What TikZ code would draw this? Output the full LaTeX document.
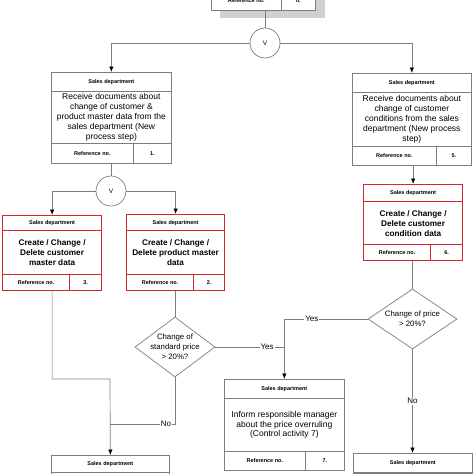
\documentclass[tikz,border=0pt]{standalone}
\usepackage{fontspec}
\setmainfont{Liberation Sans}
\usetikzlibrary{shapes.geometric,arrows.meta}
\definecolor{redb}{RGB}{212,38,48}
\definecolor{lng}{RGB}{125,125,125}
\definecolor{shadowg}{RGB}{208,208,208}
\tikzset{
 cell/.style={draw=lng, line width=0.7pt, fill=white, inner sep=1pt, anchor=north west, align=center},
 hdr/.style={cell, font=\bfseries\fontsize{5.5}{6.5}\selectfont},
 bodytxt/.style={cell, font=\fontsize{8.5}{9.8}\selectfont},
 rbodytxt/.style={cell, font=\bfseries\fontsize{8.2}{10}\selectfont},
 redc/.style={draw=redb, line width=1.2pt},
 conn/.style={draw=lng, line width=0.7pt},
 arr/.style={conn, -{Latex[length=5.5pt,width=4.5pt,black]}},
 lbl/.style={fill=white, inner sep=1pt, font=\fontsize{8}{9}\selectfont},
 circ/.style={circle, draw=lng, line width=0.7pt, minimum size=30pt, inner sep=0pt, font=\fontsize{6.5}{7}\selectfont, fill=white},
 dia/.style={diamond, draw=lng, line width=0.7pt, inner sep=0pt, fill=white},
 dtext/.style={align=center, font=\fontsize{7.8}{10}\selectfont, inner sep=0pt},
}
\begin{document}
\begin{tikzpicture}[x=1pt,y=-1pt]
\useasboundingbox (0,0) rectangle (474,474);
\clip (0,0) rectangle (474,474);
\fill[white] (0,0) rectangle (474,474);

% top interface box with shadow
\fill[shadowg] (220,-40) rectangle (325,18);
\node[hdr, minimum width=70pt, minimum height=19pt] (tr) at (211,-9) {Reference no.};
\node[hdr, minimum width=34pt, minimum height=19pt] (tn) at (281,-9) {II.};

% connector 1
\node[circ] (c1) at (265,43) {V};

% box 1
\node[hdr, minimum width=120pt, minimum height=19pt] (b1h) at (51,72) {Sales department};
\node[bodytxt, minimum width=120pt, minimum height=52pt] (b1b) at (51,91) {Receive documents about\\change of customer \&\\product master data from the\\sales department (New\\process step)};
\node[hdr, minimum width=82pt, minimum height=20pt] (b1r) at (51,143) {Reference no.};
\node[hdr, minimum width=38pt, minimum height=20pt] (b1n) at (133,143) {1.};

% box 5
\node[hdr, minimum width=119pt, minimum height=19pt] (b5h) at (352,73) {Sales department};
\node[bodytxt, minimum width=119pt, minimum height=54pt] (b5b) at (352,92) {Receive documents about\\change of customer\\conditions from the sales\\department (New process\\step)};
\node[hdr, minimum width=84pt, minimum height=19pt] (b5r) at (352,146) {Reference no.};
\node[hdr, minimum width=35pt, minimum height=19pt] (b5n) at (436,146) {5.};

% connector 2
\node[circ] (c2) at (111,191) {V};

% box 3 (red)
\node[hdr, redc, minimum width=99pt, minimum height=15pt] (b3h) at (2,215) {Sales department};
\node[rbodytxt, redc, minimum width=99pt, minimum height=44pt] (b3b) at (2,230) {Create / Change /\\Delete customer\\master data};
\node[hdr, redc, minimum width=67pt, minimum height=16pt] (b3r) at (2,274) {Reference no.};
\node[hdr, redc, minimum width=32pt, minimum height=16pt] (b3n) at (69,274) {3.};

% box 2 (red)
\node[hdr, redc, minimum width=98pt, minimum height=16pt] (b2h) at (126,214) {Sales department};
\node[rbodytxt, redc, minimum width=98pt, minimum height=44pt] (b2b) at (126,230) {Create / Change /\\Delete product master\\data};
\node[hdr, redc, minimum width=67pt, minimum height=16pt] (b2r) at (126,274) {Reference no.};
\node[hdr, redc, minimum width=31pt, minimum height=16pt] (b2n) at (193,274) {2.};

% box 6 (red)
\node[hdr, redc, minimum width=99pt, minimum height=17pt] (b6h) at (363,184) {Sales department};
\node[rbodytxt, redc, minimum width=99pt, minimum height=43pt] (b6b) at (363,201) {Create / Change /\\Delete customer\\condition data};
\node[hdr, redc, minimum width=67pt, minimum height=16pt] (b6r) at (363,244) {Reference no.};
\node[hdr, redc, minimum width=32pt, minimum height=16pt] (b6n) at (430,244) {6.};

% decisions
\node[dia, minimum width=80pt, minimum height=60pt] (d1) at (175,347) {};
\node[dtext] (d1t) at (d1) {Change of\\standard price\\> 20\%?};
\node[dia, minimum width=89pt, minimum height=60pt] (d2) at (412.5,319) {};
\node[dtext] (d2t) at (d2) {Change of price\\> 20\%?};

% box 7
\node[hdr, minimum width=120pt, minimum height=19pt] (b7h) at (224,379) {Sales department};
\node[bodytxt, minimum width=120pt, minimum height=53pt] (b7b) at (224,398) {Inform responsible manager\\about the price overruling\\(Control activity 7)};
\node[hdr, minimum width=81pt, minimum height=19pt] (b7r) at (224,451) {Reference no.};
\node[hdr, minimum width=39pt, minimum height=19pt] (b7n) at (305,451) {7.};

% bottom boxes
\node[hdr, minimum width=118pt, minimum height=17pt] (bLh) at (51,455) {Sales department};
\node[cell, minimum width=118pt, minimum height=40pt] (bLb) at (51,472) {};
\node[hdr, minimum width=119pt, minimum height=19pt] (bRh) at (353,453) {Sales department};
\node[cell, minimum width=119pt, minimum height=40pt] (bRb) at (353,472) {};
\draw[lng, line width=2pt] (bRh.south west) -- (bRh.south east);

\coordinate (j1) at (110,379);
\coordinate (j2) at (110,424);
\coordinate (yc) at (b7h.north |- d2.west);

% connectors
\draw[conn] (c1 |- tr.south) -- (c1.north);
\draw[arr] (c1.west) -| (b1h.north);
\draw[arr] (c1.east) -| (b5h.north);
\draw[conn] (c2 |- b1r.south) -- (c2.north);
\draw[arr] (c2.west) -| (b3h.north);
\draw[arr] (c2.east) -| (b2h.north);
\draw[arr] (b6h.north |- b5r.south) -- (b6h.north);
\draw[conn] (d1.north |- b2r.south) -- (d1.north);
\draw[conn] (d2.north |- b6r.south) -- (d2.north);
\draw[arr] (b3h.south |- b3r.south) |- (j1) -- (bLh.north);
\draw[conn] (d1.south) -- (d1.south |- j2) -- node[lbl,pos=0.14]{No} (j2);
\draw[arr] (d2.west) -- node[lbl,pos=0.67]{Yes} (yc) -- (b7h.north);
\draw[conn] (d1.east) -- node[lbl,pos=0.75]{Yes} (b7h.north |- d1.east);
\draw[arr] (d2.south) -- node[lbl,pos=0.5]{No} (d2.south |- bRh.north);
\end{tikzpicture}
\end{document}
